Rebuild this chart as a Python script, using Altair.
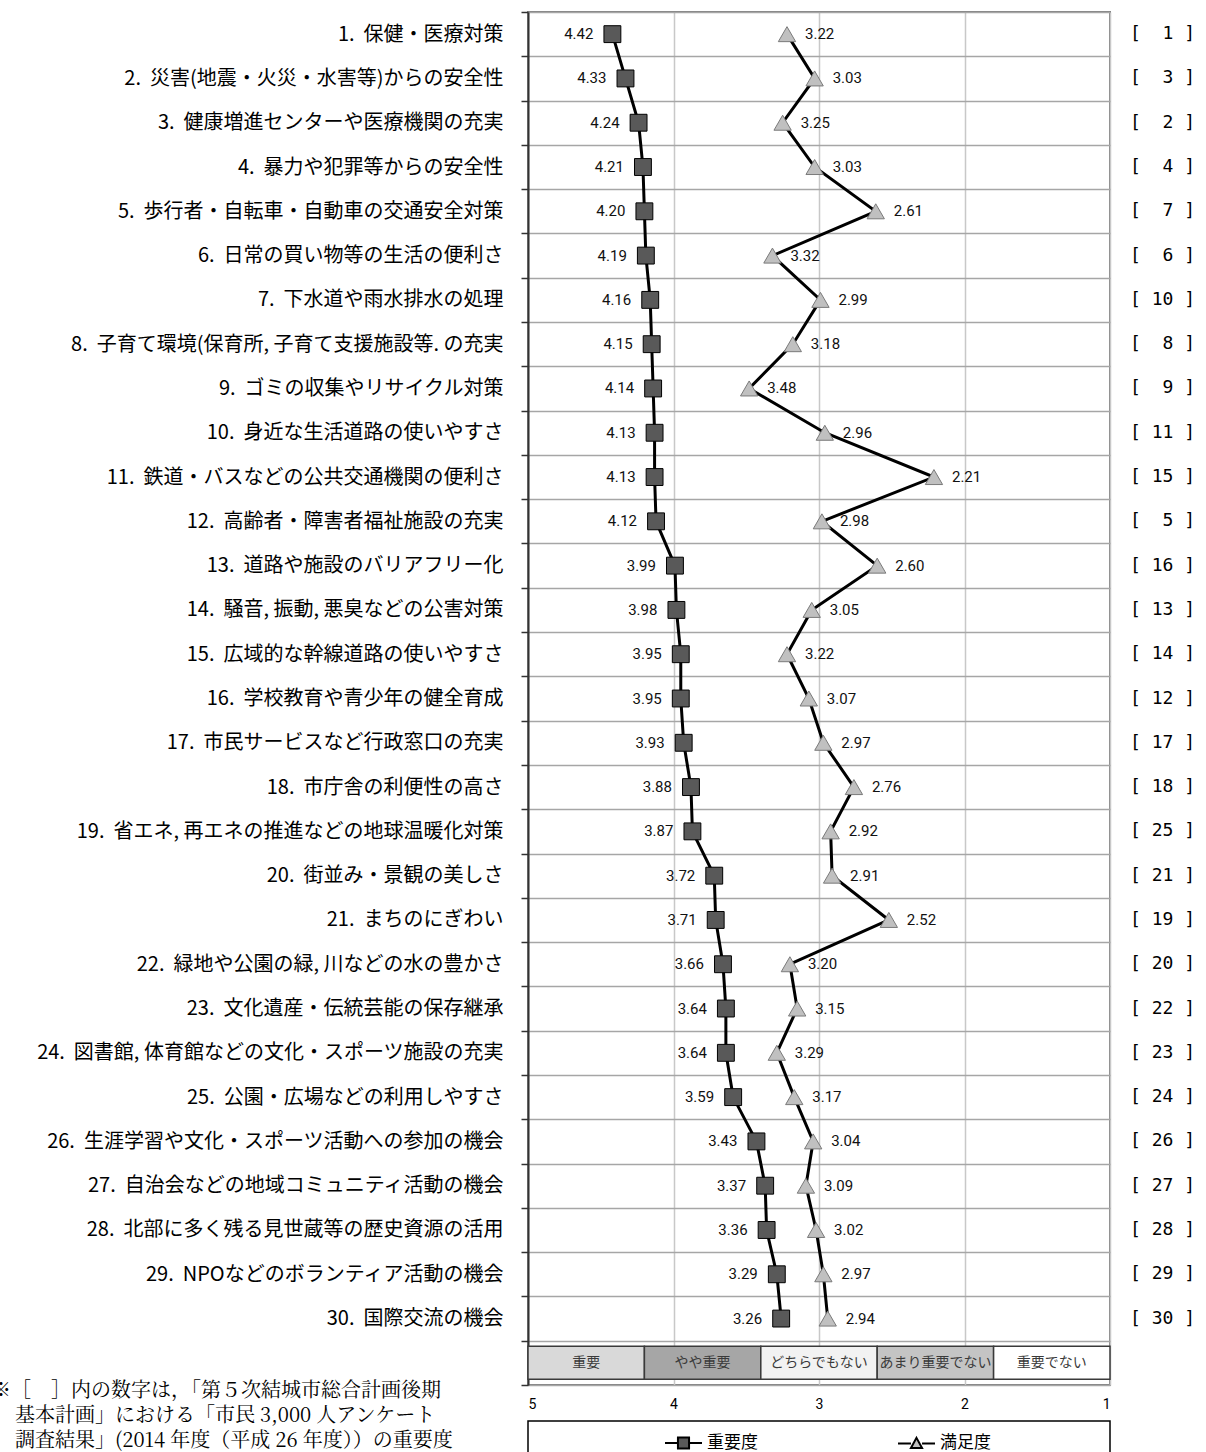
import altair as alt
import pandas as pd

# ---------------- data ----------------
items = [
    "保健・医療対策",
    "災害(地震・火災・水害等)からの安全性",
    "健康増進センターや医療機関の充実",
    "暴力や犯罪等からの安全性",
    "歩行者・自転車・自動車の交通安全対策",
    "日常の買い物等の生活の便利さ",
    "下水道や雨水排水の処理",
    "子育て環境(保育所, 子育て支援施設等. の充実",
    "ゴミの収集やリサイクル対策",
    "身近な生活道路の使いやすさ",
    "鉄道・バスなどの公共交通機関の便利さ",
    "高齢者・障害者福祉施設の充実",
    "道路や施設のバリアフリー化",
    "騒音, 振動, 悪臭などの公害対策",
    "広域的な幹線道路の使いやすさ",
    "学校教育や青少年の健全育成",
    "市民サービスなど行政窓口の充実",
    "市庁舎の利便性の高さ",
    "省エネ, 再エネの推進などの地球温暖化対策",
    "街並み・景観の美しさ",
    "まちのにぎわい",
    "緑地や公園の緑, 川などの水の豊かさ",
    "文化遺産・伝統芸能の保存継承",
    "図書館, 体育館などの文化・スポーツ施設の充実",
    "公園・広場などの利用しやすさ",
    "生涯学習や文化・スポーツ活動への参加の機会",
    "自治会などの地域コミュニティ活動の機会",
    "北部に多く残る見世蔵等の歴史資源の活用",
    "NPOなどのボランティア活動の機会",
    "国際交流の機会",
]
importance = [4.42, 4.33, 4.24, 4.21, 4.20, 4.19, 4.16, 4.15, 4.14, 4.13,
              4.13, 4.12, 3.99, 3.98, 3.95, 3.95, 3.93, 3.88, 3.87, 3.72,
              3.71, 3.66, 3.64, 3.64, 3.59, 3.43, 3.37, 3.36, 3.29, 3.26]
satisfaction = [3.22, 3.03, 3.25, 3.03, 2.61, 3.32, 2.99, 3.18, 3.48, 2.96,
                2.21, 2.98, 2.60, 3.05, 3.22, 3.07, 2.97, 2.76, 2.92, 2.91,
                2.52, 3.20, 3.15, 3.29, 3.17, 3.04, 3.09, 3.02, 2.97, 2.94]
prev_ranks = [1, 3, 2, 4, 7, 6, 10, 8, 9, 11, 15, 5, 16, 13, 14, 12, 17, 18, 25, 21,
              19, 20, 22, 23, 24, 26, 27, 28, 29, 30]

scale_labels = ["重要", "やや重要", "どちらでもない", "あまり重要でない", "重要でない"]
scale_start = [5.0, 4.2, 3.4, 2.6, 1.8]
scale_end = [4.2, 3.4, 2.6, 1.8, 1.0]
scale_colors = ["#d9d9d9", "#a6a6a6", "#f2f2f2", "#c4c4c4", "#ffffff"]

series_names = ["重要度", "満足度"]
series_colors = ["#595959", "#c0c0c0"]
x_ticks = [5, 4, 3, 2, 1]

note_first = ["※［　］内の数字は，「第５次結城市総合計画後期"]
note_rest = [
    "基本計画」における「市民 3,000 人アンケート",
    "調査結果」(2014 年度（平成 26 年度））の重要度",
]

# ---------------- tables ----------------
NB = "\u00a0"
labels = [f"{i + 1}.{NB}{NB}{t}" for i, t in enumerate(items)]
BAND = "band"
ydomain = labels + [BAND]

df = pd.DataFrame({
    "item": labels,
    "idx": list(range(1, len(labels) + 1)),
    "imp": importance,
    "sat": satisfaction,
    "rank": [f"[{r:>3} ]".replace(" ", NB) for r in prev_ranks],
})
band_df = pd.DataFrame({
    "item": [BAND] * len(scale_labels),
    "label": scale_labels,
    "start": scale_start,
    "end": scale_end,
    "color": scale_colors,
})
band_df["mid"] = (band_df["start"] + band_df["end"]) / 2
series_df = pd.DataFrame({"series": series_names})
one = pd.DataFrame({"k": [0]})

# ---------------- encodings ----------------
xscale = alt.Scale(domain=[1, 5], reverse=True, nice=False, zero=False)
xaxis = alt.Axis(values=x_ticks, format="d", ticks=False, domain=False, grid=True,
                 labelFontSize=14, labelPadding=12, labelColor="black",
                 labelFont="Roboto",
                 gridColor="#c8c8c8", gridWidth=1.5, title=None)
yscale = alt.Scale(domain=ydomain, paddingInner=0, paddingOuter=0)
yaxis = alt.Axis(labelExpr=f"datum.value == '{BAND}' ? '' : datum.value",
                 tickBand="extent", grid=True, labelFontSize=20, labelFont="Noto Sans CJK JP",
                 labelColor="black", labelPadding=18, tickSize=7, tickColor="#333",
                 tickWidth=1.5, domainColor="#333", domainWidth=2,
                 gridColor="#a6a6a6", gridWidth=1.5, labelLimit=700, title=None)


def X(field):
    return alt.X(field, scale=xscale, axis=xaxis, title=None)


def XD(v):
    return alt.X(datum=v, type="quantitative", scale=xscale, axis=xaxis, title=None)


def Y():
    return alt.Y("item:N", scale=yscale, axis=yaxis, title=None)


num_font = "Roboto"

legend_box = alt.Chart(one).mark_rect(fill="white", stroke="black", strokeWidth=1.5).encode(
    x=XD(5), x2=alt.X2(datum=1), y=alt.value(1409), y2=alt.value(1520)
)

band_bars = alt.Chart(band_df).mark_bar(size=33, stroke="#3a3a3a", strokeWidth=1.5).encode(
    x=X("start:Q"), x2="end:Q", y=Y(), color=alt.Color("color:N", scale=None)
)
band_text = alt.Chart(band_df).mark_text(fontSize=14, font="Noto Sans CJK JP", color="#3a3a3a").encode(
    x=X("mid:Q"), y=Y(), text="label:N"
)

line_imp = alt.Chart(df).mark_line(color="black", strokeWidth=3).encode(
    x=X("imp:Q"), y=Y(), order="idx:Q"
)
line_sat = alt.Chart(df).mark_line(color="black", strokeWidth=3).encode(
    x=X("sat:Q"), y=Y(), order="idx:Q"
)
pts_imp = alt.Chart(df).mark_point(shape="square", filled=True, size=285, fill=series_colors[0],
                                   stroke="black", strokeWidth=1, opacity=1).encode(
    x=X("imp:Q"), y=Y()
)
pts_sat = alt.Chart(df).mark_point(shape="triangle-up", filled=True, size=300, fill=series_colors[1],
                                   stroke="#7a7a7a", strokeWidth=1, opacity=1).encode(
    x=X("sat:Q"), y=Y()
)
lab_imp = alt.Chart(df).mark_text(align="right", dx=-19, fontSize=15, font=num_font, color="#111").encode(
    x=X("imp:Q"), y=Y(), text=alt.Text("imp:Q", format=".2f")
)
lab_sat = alt.Chart(df).mark_text(align="left", dx=18, fontSize=15, font=num_font, color="#111").encode(
    x=X("sat:Q"), y=Y(), text=alt.Text("sat:Q", format=".2f")
)
rank_text = alt.Chart(df).mark_text(align="left", dx=20, fontSize=18, font="DejaVu Sans Mono",
                                    color="black").encode(
    x=XD(1), y=Y(), text="rank:N"
)
note_font = "Noto Serif CJK JP, Noto Sans CJK JP"
footnote1 = alt.Chart(one).mark_text(text=note_first, align="left", baseline="top", fontSize=20,
                                     lineHeight=25, font=note_font, color="black").encode(
    x=alt.value(-537), y=alt.value(1369)
)
footnote2 = alt.Chart(one).mark_text(text=note_rest, align="left", baseline="top", fontSize=20,
                                     lineHeight=25, font=note_font, color="black").encode(
    x=alt.value(-513), y=alt.value(1394)
)

p_sq = "M-1,0H-0.3M0.3,0H1M-0.3,-0.3H0.3V0.3H-0.3Z"
p_tri = "M-1,0H-0.3M0.3,0H1M0,-0.3L0.3,0.25H-0.3Z"
leg = alt.Legend(title=None, orient="none", legendX=136, legendY=1411, direction="horizontal",
                 padding=0, columnPadding=136, labelOffset=4, labelFontSize=17,
                 labelFont="Noto Sans CJK JP", labelColor="black", symbolSize=1369,
                 symbolStrokeColor="black", symbolStrokeWidth=2, symbolOpacity=1)
legend_layer = alt.Chart(series_df).mark_point(filled=True, size=1369, stroke="black", strokeWidth=2,
                                               opacity=1).encode(
    x=XD(3), y=alt.value(-400),
    shape=alt.Shape("series:N", scale=alt.Scale(domain=series_names, range=[p_sq, p_tri]), legend=leg),
    fill=alt.Fill("series:N", scale=alt.Scale(domain=series_names, range=series_colors), legend=leg),
    stroke=alt.Stroke("series:N", scale=alt.Scale(domain=series_names, range=["black", "black"]),
                      legend=leg),
)

chart = alt.layer(
    legend_box, band_bars, band_text, line_imp, line_sat, pts_imp, pts_sat,
    lab_imp, lab_sat, rank_text, footnote1, footnote2, legend_layer
).properties(
    width=582, height=1373,
    padding={"left": 528, "top": 12, "right": 96, "bottom": 67},
    autosize=alt.AutoSizeParams(type="none"),
    background="white",
).configure_view(stroke="#808080", strokeWidth=2)

chart.save("out.html", embed_options={"renderer": "svg", "actions": False})
